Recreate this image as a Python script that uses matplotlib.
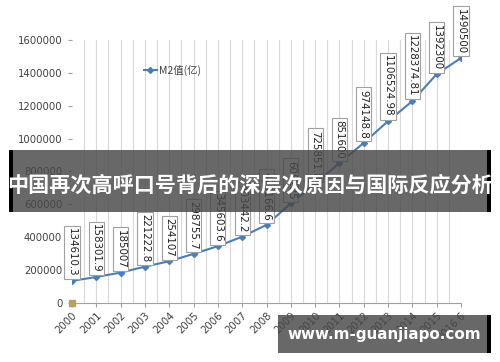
import matplotlib
matplotlib.use("Agg")
import matplotlib.pyplot as plt
from matplotlib.patches import Rectangle

years = ["2000", "2001", "2002", "2003", "2004", "2005", "2006", "2007", "2008",
         "2009", "2010", "2011", "2012", "2013", "2014", "2015", "2016.6"]
m2 = [134610.3, 158301.9, 185007, 221222.8, 254107, 298755.7, 345603.6, 403442.2,
      475166.6, 606225, 725851.8, 851600, 974148.8, 1106524.98, 1228374.81,
      1392300, 1490500]
labels = ["134610.3", "158301.9", "185007", "221222.8", "254107", "298755.7",
          "345603.6", "403442.2", "475166.6", "606225", "725851.8", "851600",
          "974148.8", "1106524.98", "1228374.81", "1392300", "1490500"]
yticks = [0, 200000, 400000, 600000, 800000, 1000000, 1200000, 1400000, 1600000]
series_name = "M2值(亿)"
title_text = "中国再次高呼口号背后的深层次原因与国际反应分析"
url_text = "www.m-guanjiapo.com"

W, H = 500, 362
fig = plt.figure(figsize=(W / 100, H / 100), dpi=100)
fig.patch.set_facecolor("white")
ax = fig.add_axes([72 / W, (H - 303) / H, (461 - 72) / W, (303 - 40) / H])

x = list(range(len(years)))
ax.plot(x, m2, color="#4A7EBB", lw=1.5, marker="D", ms=3, mfc="#4A7EBB",
        mec="#4A7EBB", label=series_name, zorder=3)
ax.plot([0], [0], ls="none", marker="s", ms=4, color="#B8A060", zorder=4, clip_on=False)

for xi, v, t in zip(x, m2, labels):
    ax.annotate(t, (xi, v), xytext=(0, 3), textcoords="offset points",
                rotation=-90, ha="center", va="bottom", fontsize=7.4, color="#202020",
                bbox=dict(boxstyle="square,pad=0.25", fc="white", ec="#A0A0A0", lw=0.8),
                annotation_clip=False, zorder=5)

ax.set_xlim(0, len(years) - 1)
ax.set_ylim(0, 1600000)
ax.set_yticks(yticks)
ax.set_yticklabels([str(v) for v in yticks], fontsize=7.3, color="#404040")
ax.set_xticks(x)
ax.set_xticklabels(years, rotation=45, ha="right", rotation_mode="anchor",
                   fontsize=7.3, color="#404040")
ax.tick_params(axis="y", length=3, color="#A0A0A0", pad=4)
ax.tick_params(axis="x", length=3, color="#A0A0A0", pad=2)

# vertical gridlines every half category
for g in [i * 0.5 for i in range(1, 2 * (len(years) - 1) + 1)]:
    ax.axvline(g, color="#D9D9D9", lw=0.8, zorder=0)

for s in ["top", "right"]:
    ax.spines[s].set_visible(False)
ax.spines["left"].set_visible(False)
ax.spines["bottom"].set_color("#A0A0A0")

leg = ax.legend(loc="center left", bbox_to_anchor=(0.16, 0.886), frameon=False,
                handlelength=1.3, handletextpad=0.2,
                prop={"family": ["Noto Sans CJK SC", "DejaVu Sans"], "size": 7.5})
for t in leg.get_texts():
    t.set_color("#404040")

# overlay bands
def px_rect(x0, y0, x1, y1, **kw):
    fig.patches.append(Rectangle((x0 / W, (H - y1) / H), (x1 - x0) / W, (y1 - y0) / H,
                                 transform=fig.transFigure, figure=fig, **kw))

px_rect(9, 150, 490, 212, facecolor=(0.28, 0.28, 0.28), alpha=0.82, lw=0, zorder=10)
px_rect(9, 150, 13, 212, facecolor="black", lw=0, zorder=11)
px_rect(487, 150, 491, 212, facecolor="black", lw=0, zorder=11)
px_rect(278, 315, 491, 353, facecolor=(0.28, 0.28, 0.28), alpha=0.82, lw=0, zorder=10)
px_rect(487, 315, 491, 353, facecolor="black", lw=0, zorder=11)

fig.text(250 / W, (H - 185) / H, title_text, ha="center", va="center", color="white",
         fontsize=15.2, fontweight="bold", family=["Noto Sans CJK SC", "DejaVu Sans"],
         zorder=12)
fig.text(384 / W, (H - 334) / H, url_text, ha="center", va="center", color="white",
         fontsize=10.9, fontweight="bold", family="DejaVu Sans", zorder=12)

fig.savefig("out.png", dpi=100)
